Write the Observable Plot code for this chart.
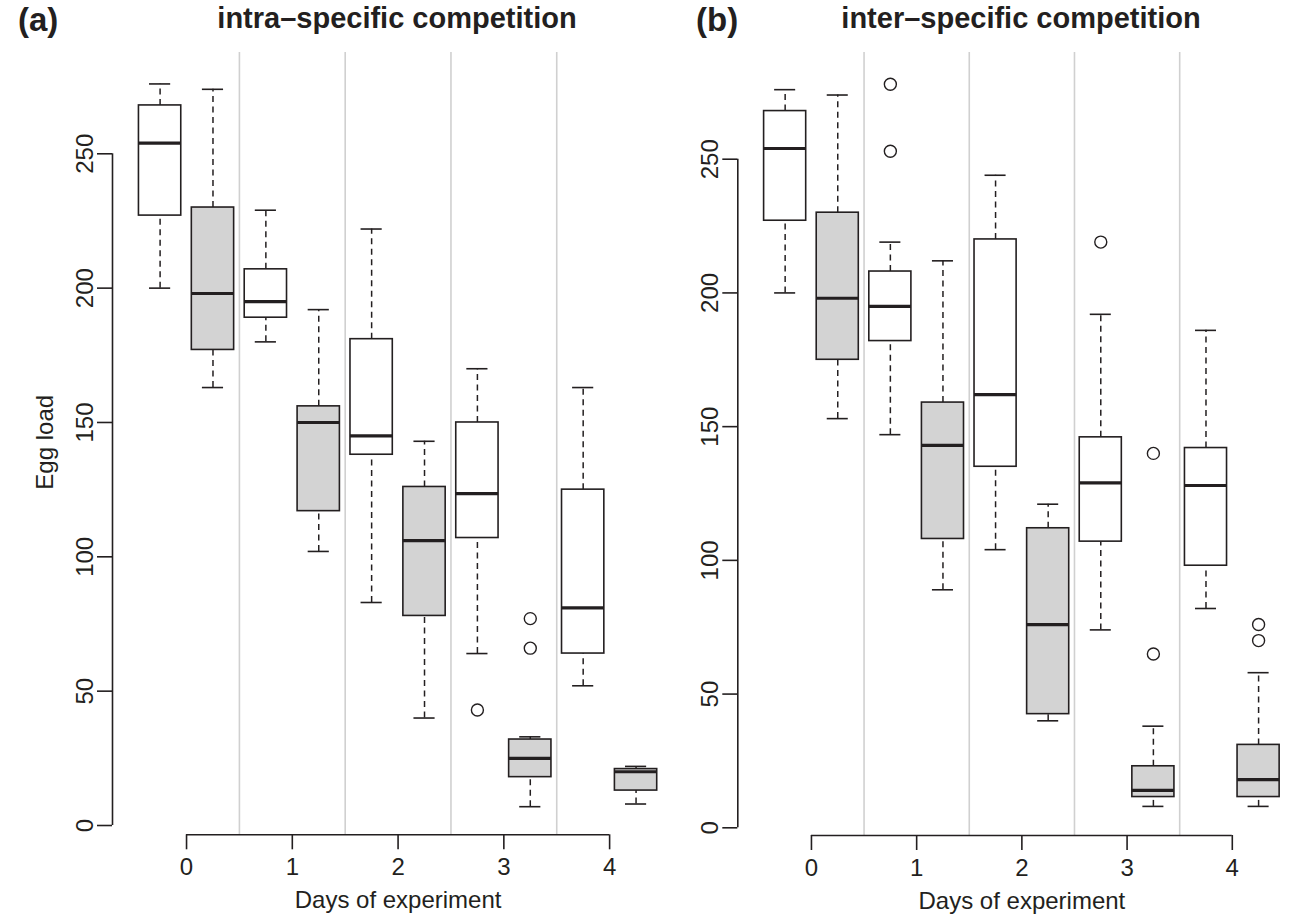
<!DOCTYPE html>
<html>
<head>
<meta charset="utf-8">
<script src="https://cdn.jsdelivr.net/npm/d3@7"></script>
<script src="https://cdn.jsdelivr.net/npm/@observablehq/plot@0.6"></script>
<style>
  body { margin: 0; background: #fff; }
  #wrap { position: relative; width: 1309px; height: 920px; font-family: "Liberation Sans", Arial, sans-serif; color: #231f20; overflow: hidden; }
  .panel { position: absolute; top: 40px; }
  .tag, .title { position: absolute; top: 0; line-height: 36px; font-size: 29px; font-weight: bold; white-space: nowrap; }
  .tag { font-size: 33px; line-height: 38px; top: 1px; }
  .title { transform: translateX(-50%); }
</style>
</head>
<body>
<div id="wrap"></div>
<script>
// ---------------- data ----------------
const days = [0, 1, 2, 3, 4];
const groups = ["open", "shaded"];
const yTicks = [0, 50, 100, 150, 200, 250];
const xLabel = "Days of experiment";
const yLabel = "Egg load";
const panelTags = ["(a)", "(b)"];
const panelTitles = ["intra–specific competition", "inter–specific competition"];

// (a) intra-specific competition — open (white) boxes
const intraOpenLow  = [200, 180, 83, 64, 52];
const intraOpenQ1   = [227, 189, 138, 107, 64];
const intraOpenMed  = [254, 195, 145, 123.5, 81];
const intraOpenQ3   = [268, 207, 181, 150, 125];
const intraOpenHigh = [276, 229, 222, 170, 163];
// (a) shaded (grey) boxes
const intraShadedLow  = [163, 102, 40, 7, 8];
const intraShadedQ1   = [177, 117, 78, 18, 13];
const intraShadedMed  = [198, 150, 106, 25, 20];
const intraShadedQ3   = [230, 156, 126, 32, 21];
const intraShadedHigh = [274, 192, 143, 33, 22];
// (a) outliers
const intraOutDay   = [3, 3, 3];
const intraOutGroup = ["open", "shaded", "shaded"];
const intraOutValue = [43, 77, 66];

// (b) inter-specific competition — open (white) boxes
const interOpenLow  = [200, 147, 104, 74, 82];
const interOpenQ1   = [227, 182, 135, 107, 98];
const interOpenMed  = [254, 195, 162, 129, 128];
const interOpenQ3   = [268, 208, 220, 146, 142];
const interOpenHigh = [276, 219, 244, 192, 186];
// (b) shaded (grey) boxes
const interShadedLow  = [153, 89, 40, 8, 8];
const interShadedQ1   = [175, 108, 42.5, 11.5, 11.5];
const interShadedMed  = [198, 143, 76, 14, 18];
const interShadedQ3   = [230, 159, 112, 23, 31];
const interShadedHigh = [274, 212, 121, 38, 58];
// (b) outliers
const interOutDay   = [1, 1, 3, 3, 3, 4, 4];
const interOutGroup = ["open", "open", "open", "shaded", "shaded", "shaded", "shaded"];
const interOutValue = [278, 253, 219, 140, 65, 76, 70];

// ---------------- build tables ----------------
function boxRows(group, low, q1, med, q3, high) {
  return days.map((day, i) => ({day, group, low: low[i], q1: q1[i], med: med[i], q3: q3[i], high: high[i]}));
}
function outRows(dayArr, groupArr, valArr) {
  return valArr.map((value, i) => ({day: dayArr[i], group: groupArr[i], value}));
}
const intraRows = [
  ...boxRows("open", intraOpenLow, intraOpenQ1, intraOpenMed, intraOpenQ3, intraOpenHigh),
  ...boxRows("shaded", intraShadedLow, intraShadedQ1, intraShadedMed, intraShadedQ3, intraShadedHigh)
];
const interRows = [
  ...boxRows("open", interOpenLow, interOpenQ1, interOpenMed, interOpenQ3, interOpenHigh),
  ...boxRows("shaded", interShadedLow, interShadedQ1, interShadedMed, interShadedQ3, interShadedHigh)
];
const intraOut = outRows(intraOutDay, intraOutGroup, intraOutValue);
const interOut = outRows(interOutDay, interOutGroup, interOutValue);

// ---------------- styling / layout ----------------
const ink = "#231f20";
const fills = {open: "#ffffff", shaded: "#d3d3d3"};
const offset = {open: -0.25, shaded: 0.25};
const half = 0.2, capHalf = 0.1;
const pos = d => d.day + offset[d.group];
const separators = days.slice(0, -1).map(d => d + 0.5);

function panel({rows, outs, width, marginLeft, marginRight, marginBottom, yDomain, showYLabel}) {
  return Plot.plot({
    width, height: 880,
    marginLeft, marginRight, marginTop: 12, marginBottom,
    x: {type: "linear", domain: [-0.7, 4.5]},
    y: {type: "linear", domain: yDomain},
    style: {fontFamily: "Liberation Sans, Arial, sans-serif", fontSize: "24px", color: ink, background: "transparent", overflow: "visible"},
    marks: [
      Plot.ruleX(separators, {stroke: "#d0d0d0", strokeWidth: 1.6}),
      // whiskers
      Plot.ruleX(rows, {x: pos, y1: "q3", y2: "high", stroke: ink, strokeWidth: 1.5, strokeDasharray: "6,4.5"}),
      Plot.ruleX(rows, {x: pos, y1: "low", y2: "q1", stroke: ink, strokeWidth: 1.5, strokeDasharray: "6,4.5"}),
      Plot.ruleY(rows, {y: "high", x1: d => pos(d) - capHalf, x2: d => pos(d) + capHalf, stroke: ink, strokeWidth: 1.6}),
      Plot.ruleY(rows, {y: "low", x1: d => pos(d) - capHalf, x2: d => pos(d) + capHalf, stroke: ink, strokeWidth: 1.6}),
      // boxes
      Plot.rect(rows, {x1: d => pos(d) - half, x2: d => pos(d) + half, y1: "q1", y2: "q3", fill: d => fills[d.group], stroke: ink, strokeWidth: 1.6}),
      Plot.ruleY(rows, {y: "med", x1: d => pos(d) - half, x2: d => pos(d) + half, stroke: ink, strokeWidth: 3.2}),
      // outliers
      Plot.dot(outs, {x: pos, y: "value", r: 6, stroke: ink, strokeWidth: 1.4, fill: "none"}),
      // axis lines (R style, spanning the ticks only)
      Plot.ruleX([-0.7], {y1: yTicks[0], y2: yTicks[yTicks.length - 1], stroke: ink, strokeWidth: 1.6}),
      Plot.ruleY([yDomain[0]], {x1: days[0], x2: days[days.length - 1], stroke: ink, strokeWidth: 1.6}),
      Plot.axisY({ticks: yTicks, tickFormat: d3.format("d"), tickSize: 15, tickPadding: 5, tickRotate: -90, label: null, fontSize: 24, strokeWidth: 1.6}),
      Plot.axisX({ticks: days, tickFormat: d3.format("d"), tickSize: 15, tickPadding: 8, label: null, fontSize: 24, strokeWidth: 1.6}),
      Plot.text([xLabel], {x: () => d3.mean(days), frameAnchor: "bottom", dy: 73, fontSize: 24, fill: ink}),
      showYLabel ? Plot.text([yLabel], {y: () => d3.mean(d3.extent(yTicks)), frameAnchor: "left", dx: -67, rotate: -90, fontSize: 24, fill: ink}) : null
    ]
  });
}

const wrap = document.getElementById("wrap");
function place(el, left) {
  const div = document.createElement("div");
  div.className = "panel";
  div.style.left = left + "px";
  div.appendChild(el);
  wrap.appendChild(div);
}
function addText(cls, text, left) {
  const d = document.createElement("div");
  d.className = cls;
  d.textContent = text;
  d.style.left = left + "px";
  wrap.appendChild(d);
}

place(panel({rows: intraRows, outs: intraOut, width: 662, marginLeft: 112, marginRight: 0, marginBottom: 85.7, yDomain: [-3.46, 287.7], showYLabel: true}), 0);
place(panel({rows: interRows, outs: interOut, width: 647, marginLeft: 75.3, marginRight: 24.6, marginBottom: 85, yDomain: [-2.88, 289.9], showYLabel: false}), 662);

addText("tag", panelTags[0], 18);
addText("title", panelTitles[0], 397);
addText("tag", panelTags[1], 696);
addText("title", panelTitles[1], 1021);
</script>
</body>
</html>
